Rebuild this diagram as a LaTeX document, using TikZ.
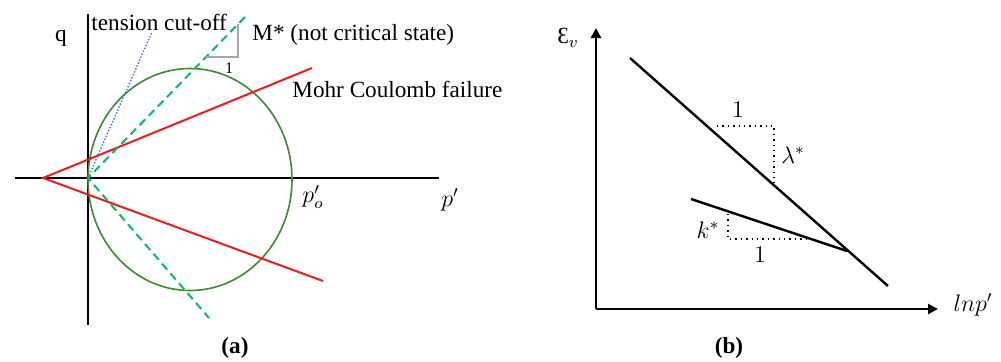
\documentclass[tikz,border=0pt]{standalone}
\usepackage{fontspec}
\setmainfont{Liberation Serif}
\usepackage{tikz}
\usetikzlibrary{arrows.meta,positioning}
\definecolor{mcred}{HTML}{EE1C1C}
\definecolor{yieldgreen}{HTML}{3C8A32}
\definecolor{mgreen}{HTML}{00C060}
\definecolor{tcblue}{HTML}{3F72D8}
\definecolor{slopegray}{HTML}{A6A6A6}

\begin{document}
\begin{tikzpicture}[x=0.5pt,y=-0.5pt,
axis/.style={line width=1.35pt},
baxis/.style={line width=1.25pt,-{Triangle[length=5pt,width=5pt]}},
mc/.style={line width=1pt,color=mcred},
yieldc/.style={line width=0.8pt,color=yieldgreen},
mstar/.style={line width=1pt,dash pattern=on 4pt off 2.5pt,color=mgreen},
tcut/.style={line width=0.7pt,dash pattern=on 0.7pt off 0.9pt,color=tcblue},
slope/.style={line width=0.6pt,color=slopegray},
nc/.style={line width=1.2pt},
dots/.style={line width=0.7pt,dotted},
lbl/.style={inner sep=0pt,font=\fontsize{11.6}{13}\selectfont},
small/.style={inner sep=0pt,font=\fontsize{8}{9}\selectfont}
]
\useasboundingbox (0,0) rectangle (1001,361);
% (a) yield surface in p'-q plane
\coordinate (O) at (88,178);
\coordinate (qtop) at (88,14);
\coordinate (qbot) at (88,325);
\coordinate (pleft) at (15,178);
\coordinate (pright) at (439,178);
\draw[axis] (qbot)--(qtop);
\draw[axis] (pleft)--(pright);
\draw[yieldc] (190,179.5) ellipse [x radius=102,y radius=111];
\coordinate (apex) at (43,178);
\coordinate (mcup) at (312,68);
\coordinate (mclow) at (323,281);
\draw[mc] (mcup)--(apex)--(mclow);
\coordinate (mup) at (245,17);
\coordinate (mlow) at (209,318);
\draw[mstar] (mup)--(O)--(mlow);
\coordinate (tc) at (152,32);
\draw[tcut] (O)--(tc);
\coordinate (s1) at (206,57);
\coordinate (s2) at (238,57);
\coordinate (s3) at (238,24);
\draw[slope] (s1)--(s2)--(s3);
\node[lbl] (q) at (61,38) {q};
\node[lbl,anchor=west] (tclbl) at (91,22) {tension cut-off};
\node[lbl,anchor=west] (mlbl) at (252,35) {M* (not critical state)};
\node[small] (one) at (229,68) {1};
\node[lbl,anchor=west] (mclbl) at (292,89) {Mohr Coulomb failure};
\node[lbl] (po) at (313,197) {$p'_o$};
\node[lbl] (pp) at (450,200) {$p'$};
\node[lbl,font=\fontsize{11.6}{13}\selectfont\bfseries] (capa) at (235,348) {(a)};
% (b) compression lines
\coordinate (bo) at (596,309);
\coordinate (btop) at (596,28);
\coordinate (bright) at (938,309);
\draw[baxis] (bo)--(btop);
\draw[baxis] (bo)--(bright);
\coordinate (ncl1) at (630,58);
\coordinate (ncl2) at (888,286);
\draw[nc] (ncl1)--(ncl2);
\coordinate (url1) at (691,199);
\coordinate (url2) at (847,251);
\draw[nc] (url1)--(url2);
\coordinate (la) at (717,126);
\coordinate (lb) at (774,126);
\coordinate (lc) at (774,183);
\draw[dots] (la)--(lb)--(lc);
\coordinate (ka) at (728,214);
\coordinate (kb) at (728,239);
\coordinate (kc) at (810,239);
\draw[dots] (ka)--(kb)--(kc);
\node[lbl] (ev) at (568,38) {Ɛ$_v$};
\node[lbl] (lnp) at (973,305) {$lnp'$};
\node[lbl] (lone) at (738,110) {$1$};
\node[lbl] (lam) at (793,155) {$\lambda^*$};
\node[lbl] (kap) at (708,230) {$k^*$};
\node[lbl] (kone) at (760,255) {$1$};
\node[lbl,font=\fontsize{11.6}{13}\selectfont\bfseries] (capb) at (729,348) {(b)};
\end{tikzpicture}
\end{document}
